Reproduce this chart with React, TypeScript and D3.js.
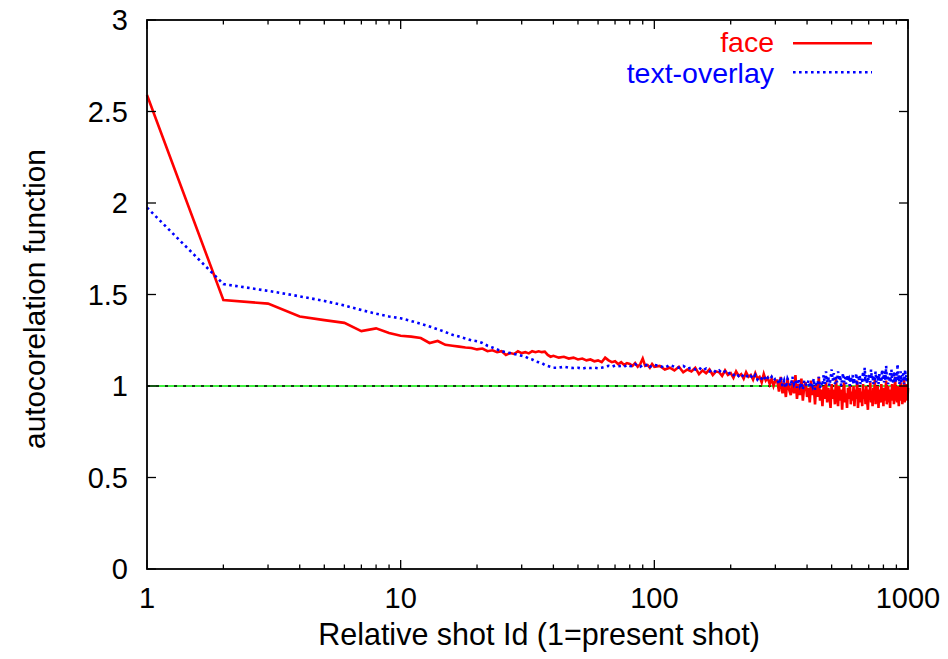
import React from "react";
import * as d3 from "d3";

// Shot ids (sampled grid of relative shot ids)
const shotIdsA = d3.range(1, 41); // 40
const shotIdsB = d3.range(42, 101, 2); // 30
const shotIdsC = d3.range(105, 301, 5); // 40
const shotIdsD = d3.range(305, 1001, 5); // 140

const faceA = [
  2.59, 1.47, 1.45, 1.38, 1.36, 1.345, 1.3, 1.315, 1.29, 1.275,
  1.27, 1.262, 1.235, 1.246, 1.225, 1.22, 1.215, 1.21, 1.208, 1.2,
  1.205, 1.19, 1.195, 1.185, 1.19, 1.17, 1.18, 1.175, 1.19, 1.18,
  1.185, 1.178, 1.19, 1.185, 1.19, 1.185, 1.188, 1.17, 1.16, 1.165,
];
const faceB = [
  1.155, 1.16, 1.15, 1.155, 1.145, 1.15, 1.14, 1.145, 1.135, 1.14,
  1.13, 1.155, 1.14, 1.13, 1.135, 1.12, 1.13, 1.115, 1.125, 1.12,
  1.11, 1.125, 1.105, 1.12, 1.15, 1.11, 1.115, 1.1, 1.12, 1.105,
];
const faceC = [
  1.11, 1.09, 1.1, 1.085, 1.105, 1.075, 1.09, 1.08, 1.1, 1.065,
  1.085, 1.07, 1.09, 1.06, 1.08, 1.075, 1.055, 1.085, 1.06, 1.07,
  1.045, 1.08, 1.055, 1.065, 1.04, 1.075, 1.05, 1.06, 1.035, 1.07,
  1.04, 1.05, 1.02, 1.065, 1.03, 1.045, 1.01, 1.04, 1.0, 1.03,
];
const faceD = [
  1.03, 0.97, 1.05, 0.96, 1.02, 0.94, 1.04, 0.98, 0.95, 1.03,
  0.96, 1.06, 0.93, 1.01, 0.95, 1.04, 0.92, 1.0, 1.02, 0.94,
  0.99, 0.91, 1.03, 0.95, 1.0, 0.9, 1.01, 0.94, 1.05, 0.92,
  0.98, 0.89, 1.0, 0.93, 1.02, 0.91, 0.99, 0.95, 0.88, 1.01,
  0.93, 0.98, 0.9, 1.04, 0.94, 0.89, 1.0, 0.92, 0.98, 0.87,
  0.97, 1.02, 0.91, 0.96, 0.88, 0.99, 0.93, 1.01, 0.9, 0.97,
  0.92, 1.0, 0.89, 0.98, 0.93, 1.03, 0.88, 0.96, 0.99, 0.91,
  0.97, 0.89, 1.01, 0.93, 0.98, 0.9, 1.0, 0.92, 0.87, 0.98,
  0.94, 1.02, 0.91, 0.97, 0.89, 0.99, 0.93, 1.04, 0.9, 0.97,
  0.92, 1.0, 0.88, 0.98, 0.94, 0.91, 1.01, 0.93, 0.98, 0.89,
  0.99, 0.92, 0.97, 1.03, 0.9, 0.96, 1.0, 0.91, 0.98, 0.88,
  0.97, 0.92, 1.01, 0.93, 0.99, 0.9, 0.98, 1.05, 0.92, 0.97,
  0.91, 1.0, 0.94, 0.89, 0.99, 0.93, 1.02, 0.92, 0.98, 0.9,
  1.0, 0.94, 1.04, 0.91, 0.98, 0.93, 1.01, 0.95, 0.92, 0.99,
];

const textA = [
  1.975, 1.557, 1.52, 1.49, 1.465, 1.44, 1.415, 1.395, 1.38, 1.37,
  1.355, 1.34, 1.325, 1.31, 1.295, 1.28, 1.27, 1.26, 1.25, 1.245,
  1.235, 1.22, 1.21, 1.2, 1.19, 1.185, 1.18, 1.175, 1.17, 1.165,
  1.16, 1.15, 1.145, 1.135, 1.13, 1.125, 1.115, 1.11, 1.105, 1.1,
];
const textB = [
  1.1, 1.105, 1.1, 1.098, 1.1, 1.095, 1.1, 1.098, 1.1, 1.097,
  1.1, 1.105, 1.11, 1.105, 1.112, 1.108, 1.11, 1.105, 1.115, 1.11,
  1.108, 1.12, 1.11, 1.105, 1.115, 1.11, 1.12, 1.105, 1.11, 1.115,
];
const textC = [
  1.11, 1.1, 1.115, 1.105, 1.1, 1.11, 1.095, 1.1, 1.09, 1.1,
  1.085, 1.095, 1.08, 1.09, 1.075, 1.085, 1.07, 1.08, 1.065, 1.075,
  1.06, 1.07, 1.055, 1.065, 1.05, 1.06, 1.045, 1.055, 1.04, 1.06,
  1.035, 1.05, 1.04, 1.055, 1.03, 1.045, 1.035, 1.05, 1.03, 1.04,
];
const textD = [
  1.04, 1.01, 1.05, 1.0, 1.03, 0.99, 1.04, 1.02, 1.0, 1.05,
  1.01, 1.03, 0.99, 1.04, 1.0, 1.02, 0.98, 1.03, 1.01, 1.0,
  1.03, 0.99, 1.02, 1.0, 1.04, 0.98, 1.02, 1.01, 1.05, 0.99,
  1.02, 1.0, 1.06, 1.01, 1.08, 1.02, 1.05, 1.0, 1.04, 1.09,
  1.03, 1.07, 1.01, 1.05, 1.02, 1.08, 1.03, 1.06, 1.0, 1.04,
  1.07, 1.02, 1.05, 1.01, 1.06, 1.03, 1.04, 1.0, 1.05, 1.02,
  1.06, 1.01, 1.04, 1.02, 1.07, 1.0, 1.05, 1.03, 1.06, 1.01,
  1.04, 1.02, 1.08, 1.03, 1.1, 1.02, 1.06, 1.01, 1.05, 1.03,
  1.07, 1.02, 1.09, 1.04, 1.06, 1.01, 1.05, 1.03, 1.08, 1.02,
  1.04, 1.06, 1.01, 1.07, 1.03, 1.05, 1.02, 1.09, 1.04, 1.06,
  1.02, 1.08, 1.03, 1.11, 1.04, 1.06, 1.01, 1.05, 1.03, 1.07,
  1.02, 1.09, 1.04, 1.06, 1.01, 1.08, 1.03, 1.05, 1.02, 1.07,
  1.04, 1.12, 1.03, 1.06, 1.01, 1.05, 1.08, 1.02, 1.04, 1.06,
  1.03, 1.07, 1.01, 1.05, 1.09, 1.03, 1.06, 1.02, 1.04, 1.03,
];

const xMajorTicks = [1, 10, 100, 1000];
const xTickLabels = ["1", "10", "100", "1000"];
const yTicks = [0, 0.5, 1, 1.5, 2, 2.5, 3];
const yTickLabels = ["0", "0.5", "1", "1.5", "2", "2.5", "3"];
const seriesNames = ["face", "text-overlay"];
const seriesColors = ["#ff0000", "#0000ff"];
const xLabel = "Relative shot Id (1=present shot)";
const yLabel = "autocorelation function";
const refLevel = 1;

function zip(xs: number[], vs: number[]) {
  const n = Math.min(xs.length, vs.length);
  return d3.range(n).map((i) => ({ x: xs[i], y: vs[i] }));
}

const W = 948;
const H = 659;
const L = 147, R = 908, T = 20, B = 569;
const FONT = "'Liberation Sans', Arial, Helvetica, sans-serif";
const FS_TICK = 29;
const FS_XLAB = 30.5;
const FS_YLAB = 29.8;
const FS_LEG = 28.5;

export default function App() {
  const x = d3.scaleLog().domain([1, 1000]).range([L, R]);
  const y = d3.scaleLinear().domain([0, 3]).range([B, T]);

  const face = [
    ...zip(shotIdsA, faceA),
    ...zip(shotIdsB, faceB),
    ...zip(shotIdsC, faceC),
    ...zip(shotIdsD, faceD),
  ];
  const text = [
    ...zip(shotIdsA, textA),
    ...zip(shotIdsB, textB),
    ...zip(shotIdsC, textC),
    ...zip(shotIdsD, textD),
  ];
  const line = d3
    .line<{ x: number; y: number }>()
    .x((d) => x(d.x))
    .y((d) => y(d.y));

  const minorTicks: number[] = [];
  [1, 10, 100].forEach((dec) => {
    for (let k = 2; k <= 9; k++) minorTicks.push(dec * k);
  });

  return (
    <svg
      width={W}
      height={H}
      style={{ position: "absolute", left: 0, top: 0, background: "#fff" }}
      fontFamily={FONT}
    >
      <rect x={0} y={0} width={W} height={H} fill="#fff" />
      {/* reference line y = 1 */}
      <line x1={L} x2={R} y1={y(refLevel)} y2={y(refLevel)} stroke="#00ee00" strokeWidth={1.3} />
      <line
        x1={L}
        x2={R}
        y1={y(refLevel)}
        y2={y(refLevel)}
        stroke="#000"
        strokeWidth={1.3}
        strokeDasharray="3,6"
      />

      {/* series */}
      <path d={line(face) || ""} fill="none" stroke={seriesColors[0]} strokeWidth={2.6} strokeLinejoin="miter" />
      <path
        d={line(text) || ""}
        fill="none"
        stroke={seriesColors[1]}
        strokeWidth={2.6}
        strokeDasharray="2.6,3.4"
      />

      {/* ticks */}
      {xMajorTicks.map((t) => (
        <g key={"xm" + t}>
          <line x1={x(t)} x2={x(t)} y1={B} y2={B - 9} stroke="#000" strokeWidth={1.3} />
          <line x1={x(t)} x2={x(t)} y1={T} y2={T + 9} stroke="#000" strokeWidth={1.3} />
        </g>
      ))}
      {minorTicks.map((t) => (
        <g key={"xn" + t}>
          <line x1={x(t)} x2={x(t)} y1={B} y2={B - 4.5} stroke="#000" strokeWidth={1.3} />
          <line x1={x(t)} x2={x(t)} y1={T} y2={T + 4.5} stroke="#000" strokeWidth={1.3} />
        </g>
      ))}
      {yTicks.map((t) => (
        <g key={"y" + t}>
          <line x1={L} x2={L + 9} y1={y(t)} y2={y(t)} stroke="#000" strokeWidth={1.3} />
          <line x1={R} x2={R - 9} y1={y(t)} y2={y(t)} stroke="#000" strokeWidth={1.3} />
        </g>
      ))}

      {/* border */}
      <rect x={L} y={T} width={R - L} height={B - T} fill="none" stroke="#000" strokeWidth={1.8} />

      {/* tick labels */}
      {yTicks.map((t, i) => (
        <text key={"yl" + t} x={128} y={y(t) + 10} textAnchor="end" fontSize={FS_TICK} fill="#000">
          {yTickLabels[i]}
        </text>
      ))}
      {xMajorTicks.map((t, i) => (
        <text key={"xl" + t} x={x(t)} y={608} textAnchor="middle" fontSize={FS_TICK} fill="#000">
          {xTickLabels[i]}
        </text>
      ))}

      {/* axis labels */}
      <text x={539} y={645} textAnchor="middle" fontSize={FS_XLAB} fill="#000">
        {xLabel}
      </text>
      <text
        transform={`translate(45,299) rotate(-90)`}
        textAnchor="middle"
        fontSize={FS_YLAB}
        fill="#000"
      >
        {yLabel}
      </text>

      {/* legend */}
      <text x={774} y={52} textAnchor="end" fontSize={FS_LEG} fill={seriesColors[0]}>
        {seriesNames[0]}
      </text>
      <line x1={793} x2={872} y1={43.3} y2={43.3} stroke={seriesColors[0]} strokeWidth={2.6} />
      <text x={774} y={83} textAnchor="end" fontSize={FS_LEG} fill={seriesColors[1]}>
        {seriesNames[1]}
      </text>
      <line
        x1={793}
        x2={872}
        y1={72.3}
        y2={72.3}
        stroke={seriesColors[1]}
        strokeWidth={2.6}
        strokeDasharray="2.6,3.4"
      />
    </svg>
  );
}
